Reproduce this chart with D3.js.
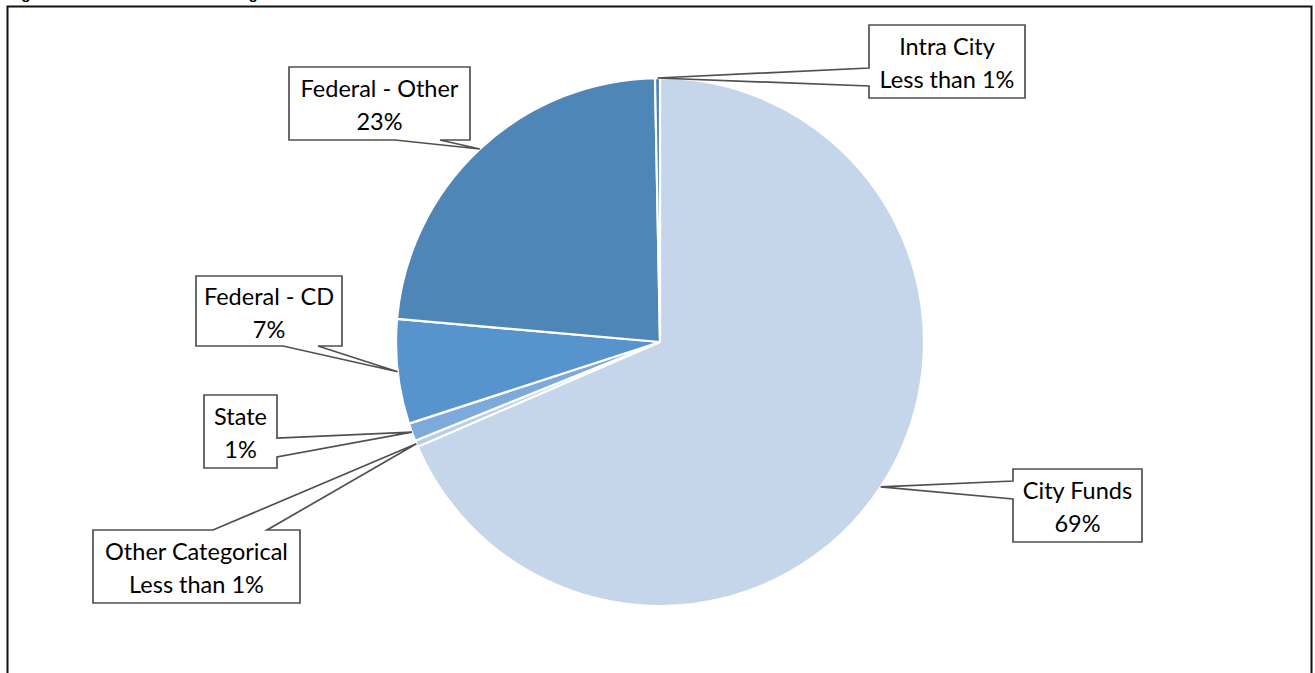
<!DOCTYPE html>
<html>
<head>
<meta charset="utf-8">
<script src="https://cdn.jsdelivr.net/npm/d3@7"></script>
<style>
  body { margin: 0; background: #fff; }
  svg { display: block; }
</style>
</head>
<body>
<svg></svg>
<script>
// slices, clockwise from 12 o'clock
var categories = ["City Funds", "Other Categorical", "State", "Federal - CD", "Federal - Other", "Intra City"];
var shares = [68.5, 0.4, 1.1, 6.4, 23.3, 0.3];
var shareLabels = ["69%", "Less than 1%", "1%", "7%", "23%", "Less than 1%"];
var colors = ["#c5d5ea", "#b9cde5", "#7eaadb", "#5794cd", "#4f86b8", "#4a7fb0"];

// callout boxes (layout only): box corners, side the pointer leaves from, notch span on that side
var callouts = [
  { x0: 1013, y0: 469, x1: 1142, y1: 542, side: "left", a: 481, b: 499 },
  { x0: 93, y0: 530, x1: 300, y1: 603, side: "top", a: 213, b: 267 },
  { x0: 204, y0: 395, x1: 277, y1: 468, side: "right", a: 438, b: 457 },
  { x0: 196, y0: 276, x1: 342, y1: 346, side: "bottom", a: 283, b: 318 },
  { x0: 289, y0: 67, x1: 470, y1: 140, side: "bottom", a: 395, b: 440 },
  { x0: 869, y0: 25, x1: 1025, y1: 98, side: "left", a: 68, b: 86 }
];

var width = 1315, height = 673;
var cx = 660, cy = 342, radius = 264;

var svg = d3.select("svg").attr("width", width).attr("height", height);

// title, cut off by the top of the picture as in the source
svg.append("text")
  .attr("x", 8)
  .attr("y", -1)
  .attr("font-family", "Liberation Sans, Arial, sans-serif")
  .attr("font-weight", "bold")
  .attr("font-size", 15)
  .text("Figure 3: Fiscal 2018 Total Funding Sources");

// chart frame
svg.append("rect")
  .attr("x", 7.5)
  .attr("y", 6.5)
  .attr("width", 1304)
  .attr("height", 700)
  .attr("fill", "none")
  .attr("stroke", "#111")
  .attr("stroke-width", 2);

var pie = d3.pie().sort(null).value(function (d) { return d; });
var arcs = pie(shares);

var arc = d3.arc().innerRadius(0).outerRadius(radius);
var edge = d3.arc().innerRadius(radius).outerRadius(radius);

var g = svg.append("g").attr("transform", "translate(" + cx + "," + cy + ")");

g.selectAll("path")
  .data(arcs)
  .enter()
  .append("path")
  .attr("d", arc)
  .attr("fill", function (d, i) { return colors[i]; })
  .attr("stroke", "#fff")
  .attr("stroke-width", 2.2)
  .attr("stroke-linejoin", "round");

// callout outline: box with a pointer going to the slice's edge
function calloutPath(c, tip) {
  var p = d3.path();
  var tx = tip[0], ty = tip[1];
  p.moveTo(c.x0, c.y0);
  if (c.side == "top") { p.lineTo(c.a, c.y0); p.lineTo(tx, ty); p.lineTo(c.b, c.y0); }
  p.lineTo(c.x1, c.y0);
  if (c.side == "right") { p.lineTo(c.x1, c.a); p.lineTo(tx, ty); p.lineTo(c.x1, c.b); }
  p.lineTo(c.x1, c.y1);
  if (c.side == "bottom") { p.lineTo(c.b, c.y1); p.lineTo(tx, ty); p.lineTo(c.a, c.y1); }
  p.lineTo(c.x0, c.y1);
  if (c.side == "left") { p.lineTo(c.x0, c.b); p.lineTo(tx, ty); p.lineTo(c.x0, c.a); }
  p.closePath();
  return p.toString();
}

var labels = svg.selectAll("g.label")
  .data(arcs)
  .enter()
  .append("g")
  .attr("class", "label");

labels.append("path")
  .attr("d", function (d, i) {
    var t = edge.centroid(d);
    return calloutPath(callouts[i], [t[0] + cx, t[1] + cy]);
  })
  .attr("fill", "none")
  .attr("stroke", "#505050")
  .attr("stroke-width", 1.7)
  .attr("stroke-linejoin", "miter");

var txt = labels.append("text")
  .attr("font-family", "Lato, sans-serif")
  .attr("font-size", 23.5)
  .attr("fill", "#000")
  .attr("text-anchor", "middle");

txt.append("tspan")
  .attr("x", function (d, i) { return (callouts[i].x0 + callouts[i].x1) / 2; })
  .attr("y", function (d, i) { return (callouts[i].y0 + callouts[i].y1) / 2 - 6.5; })
  .text(function (d, i) { return categories[i]; });

txt.append("tspan")
  .attr("x", function (d, i) { return (callouts[i].x0 + callouts[i].x1) / 2; })
  .attr("y", function (d, i) { return (callouts[i].y0 + callouts[i].y1) / 2 + 26.5; })
  .text(function (d, i) { return shareLabels[i]; });
</script>
</body>
</html>
